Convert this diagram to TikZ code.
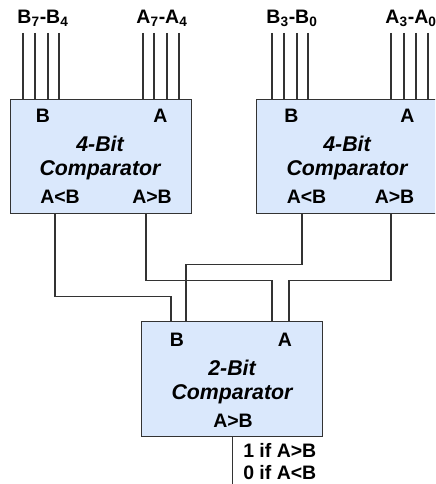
\documentclass[tikz,border=0pt]{standalone}
\usepackage{fontspec}
\setmainfont{Liberation Sans}
\usetikzlibrary{positioning, calc}
\definecolor{azulcaja}{HTML}{DAE8FC}
\definecolor{grislinea}{HTML}{333333}
\tikzset{
  cajaComp/.style={
    draw=grislinea, line width=1.1pt, fill=azulcaja,
    minimum width=135.75pt, minimum height=85.5pt,
    anchor=north west, inner sep=0pt
  },
  cable/.style={draw=grislinea, line width=1pt},
  etiqueta/.style={font=\fontsize{14.6}{16}\selectfont\bfseries, text=black,
    inner sep=0pt, anchor=base},
  titulo/.style={etiqueta, font=\fontsize{16}{18}\selectfont\bfseries\itshape},
}

\begin{document}
\begin{tikzpicture}[x=0.75pt, y=-0.75pt]
    \clip (0,0) rectangle (435,484);

    % comparadores
    \node[cajaComp] (comp1) at (10,99) {};
    \node[cajaComp] (comp2) at (256,99) {};
    \node[cajaComp, minimum height=86.25pt] (comp3) at (141,321) {};

    % buses de entrada
    \foreach \x in {23,35,48,59,143,154,167,179}{
      \coordinate (ent) at (\x,33);
      \draw[cable] (ent) -- (ent |- comp1.north);
    }
    \foreach \x in {272,284,297,308,391,404,416,428}{
      \coordinate (ent) at (\x,33);
      \draw[cable] (ent) -- (ent |- comp2.north);
    }
    \node[etiqueta] (busB1) at (43,23.5) {B\textsubscript{7}-B\textsubscript{4}};
    \node[etiqueta] (busA1) at (162,23.5) {A\textsubscript{7}-A\textsubscript{4}};
    \node[etiqueta] (busB2) at (292,23.5) {B\textsubscript{3}-B\textsubscript{0}};
    \node[etiqueta] (busA2) at (411,23.5) {A\textsubscript{3}-A\textsubscript{0}};

    % textos de los comparadores
    \node[etiqueta] (b1) at (43,123) {B};
    \node[etiqueta] (a1) at (160.5,123) {A};
    \node[titulo] (t1a) at (100,152) {4-Bit};
    \node[titulo] (t1b) at (100,176) {Comparator};
    \node[etiqueta] (m1) at (60,204) {A<B};
    \node[etiqueta] (g1) at (152,204) {A>B};

    \node[etiqueta] (b2) at (291.5,123) {B};
    \node[etiqueta] (a2) at (407.5,123) {A};
    \node[titulo] (t2a) at (347,152) {4-Bit};
    \node[titulo] (t2b) at (347,176) {Comparator};
    \node[etiqueta] (m2) at (306.5,204) {A<B};
    \node[etiqueta] (g2) at (394.5,204) {A>B};

    \node[etiqueta] (b3) at (177,346) {B};
    \node[etiqueta] (a3) at (285,346) {A};
    \node[titulo] (t3a) at (232,375) {2-Bit};
    \node[titulo] (t3b) at (232,399) {Comparator};
    \node[etiqueta] (g3) at (233,427) {A>B};

    % salidas y entradas
    \path (comp1.south west) ++(45,0) coordinate (s1menor) ++(91,0) coordinate (s1mayor);
    \path (comp2.south west) ++(46,0) coordinate (s2menor) ++(89,0) coordinate (s2mayor);
    \path (comp3.north west) ++(30,0) coordinate (e3b1) ++(15,0) coordinate (e3b2)
          ++(86,0) coordinate (e3a1) ++(17,0) coordinate (e3a2);

    \draw[cable] (s1menor) -- ++(0,82) -| (e3b1);
    \draw[cable] (s1mayor) -- ++(0,66) -| (e3a1);
    \draw[cable] (s2menor) -- ++(0,50) -| (e3b2);
    \draw[cable] (s2mayor) -- ++(0,66) -| (e3a2);

    \coordinate (sal) at (comp3.south |- 0,484);
    \draw[cable] (comp3.south) -- (sal);
    \node[etiqueta, anchor=base west] (res1) at (243,457) {1 if A>B};
    \node[etiqueta, anchor=base west] (res0) at (243,479) {0 if A<B};
\end{tikzpicture}
\end{document}
